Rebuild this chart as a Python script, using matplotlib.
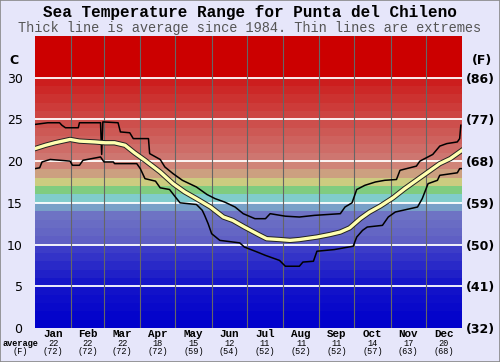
import numpy as np
import matplotlib
matplotlib.use('Agg')
import matplotlib.pyplot as plt
import matplotlib.patheffects as pe
from matplotlib.patches import Rectangle

# chart text
title = 'Sea Temperature Range for Punta del Chileno'
subtitle = 'Thick line is average since 1984. Thin lines are extremes'
months = ['Jan', 'Feb', 'Mar', 'Apr', 'May', 'Jun', 'Jul', 'Aug', 'Sep', 'Oct', 'Nov', 'Dec']
avgC = [22, 22, 22, 18, 15, 12, 11, 11, 11, 14, 17, 20]
avgF = [72, 72, 72, 72, 59, 54, 52, 52, 52, 57, 63, 68]
monthDays = [31, 28, 31, 30, 31, 30, 31, 31, 30, 31, 30, 31]
yTicksC = [0, 5, 10, 15, 20, 25, 30]
yTicksF = [32, 41, 50, 59, 68, 77, 86]

# average temperature (day of year, degC)
avgDay = [0, 9, 17, 30, 38, 51, 60, 68, 77, 85, 94, 107, 118, 128, 138, 150, 161, 169,
          179, 191, 198, 209, 218, 226, 241, 252, 261, 269, 278, 286, 295, 306, 316, 326,
          338, 346, 355, 365]
avgTemp = [21.5, 21.9, 22.2, 22.6, 22.4, 22.3, 22.2, 22.2, 21.9, 21.0, 20.1, 18.7, 17.3, 16.3,
           15.5, 14.5, 13.3, 12.9, 12.1, 11.2, 10.7, 10.6, 10.5, 10.6, 10.9, 11.2, 11.5, 12.0,
           13.1, 13.9, 14.6, 15.6, 16.7, 17.7, 18.9, 19.7, 20.3, 21.3]

# warmest on record
maxDay = [0, 11, 21, 23, 26, 37, 38, 56, 57, 58, 71, 73, 81, 84, 97, 98, 107, 111, 118, 126,
          138, 147, 154, 162, 171, 178, 188, 197, 201, 214, 226, 239, 261, 265, 271, 275, 282,
          291, 299, 309, 312, 326, 329, 340, 346, 352, 361, 363, 364]
maxTemp = [24.4, 24.6, 24.6, 24.3, 24.0, 24.0, 24.6, 24.6, 20.8, 24.7, 24.6, 23.5, 23.4, 22.7,
           22.7, 20.9, 20.2, 19.3, 18.5, 17.7, 16.9, 16.0, 15.5, 15.1, 14.5, 13.7, 13.1, 13.1,
           13.7, 13.4, 13.3, 13.5, 13.7, 14.5, 15.0, 16.6, 17.1, 17.5, 17.7, 17.8, 18.9, 19.4,
           20.0, 20.8, 21.8, 22.1, 22.3, 22.7, 24.3]

# coldest on record
minDay = [0, 4, 6, 13, 30, 32, 38, 41, 56, 59, 67, 68, 87, 90, 94, 103, 107, 115, 120, 124,
          138, 143, 145, 148, 151, 158, 175, 179, 190, 197, 209, 214, 226, 229, 238, 241, 256,
          272, 275, 280, 284, 297, 302, 308, 327, 331, 336, 344, 346, 361, 363, 365]
minTemp = [19.1, 19.2, 19.9, 20.2, 20.0, 19.5, 19.5, 20.1, 20.5, 19.9, 19.9, 19.7, 19.7, 19.1,
           17.9, 17.6, 16.8, 16.6, 15.7, 15.0, 14.8, 14.1, 13.5, 12.5, 11.3, 10.5, 10.2, 9.7,
           9.1, 8.7, 8.1, 7.4, 7.4, 7.9, 8.0, 9.2, 9.4, 9.8, 10.9, 11.7, 12.1, 12.3, 13.3, 13.9,
           14.5, 15.5, 17.3, 17.7, 18.3, 18.6, 19.1, 19.1]

bg = '#e6e6fa'


def bandColour(t):
    # 1 degree colour bands, blue -> cyan/green/yellow -> red
    anchors = [(0, (0, 0, 204)), (5, (22, 22, 200)), (9, (60, 60, 200)), (10, (95, 95, 196)),
               (13, (110, 115, 196)), (14, (120, 160, 200))]
    fixed = {15: (128, 204, 204), 16: (128, 204, 128), 17: (204, 204, 128), 18: (204, 160, 128),
             19: (208, 132, 120)}
    if t in fixed:
        c = fixed[t]
    elif t < 15:
        xs = [a[0] for a in anchors]
        c = tuple(np.interp(t, xs, [a[1][i] for a in anchors]) for i in range(3))
    elif t < 30:
        f = (t - 20) / 9.0
        c = (206 - 2 * f, 118 - 88 * f, 112 - 82 * f)
    else:
        c = (204, 0, 0)
    return tuple(v / 255 for v in c)


fig = plt.figure(figsize=(5, 3.62), dpi=100, facecolor=bg)
ax = fig.add_axes([0.07, 0.094, 0.854, 0.8066])
ax.set_xlim(0, 365)
ax.set_ylim(0, 35)

for t in range(35):
    ax.axhspan(t, t + 1, color=bandColour(t), lw=0, zorder=0)

for y in yTicksC[1:]:
    ax.axhline(y, color='white', lw=1.3, zorder=1)

edges = np.cumsum(monthDays)[:-1]
for e in edges:
    ax.axvline(e, color='#666666', lw=0.8, zorder=1)

ax.plot(maxDay, maxTemp, color='black', lw=1.1, zorder=3)
ax.plot(minDay, minTemp, color='black', lw=1.1, zorder=3)
ax.plot(avgDay, avgTemp, color='#ffffb0', lw=2.4, zorder=4,
        path_effects=[pe.Stroke(linewidth=3.8, foreground='#222222'), pe.Normal()])

for s in ax.spines.values():
    s.set_visible(False)

ax.set_yticks(yTicksC)
ax.set_yticklabels([str(v) for v in yTicksC], fontsize=9, family='DejaVu Sans')
ax.tick_params(axis='y', length=0, pad=9)
ax.set_xticks([])

ax2 = ax.twinx()
ax2.set_ylim(0, 35)
ax2.set_yticks(yTicksC)
ax2.set_yticklabels(['(%d)' % f for f in yTicksF], fontsize=9, fontweight='bold', family='DejaVu Sans')
ax2.tick_params(axis='y', length=0, pad=3)
for s in ax2.spines.values():
    s.set_visible(False)

ax.text(-0.05, 0.915, 'C', transform=ax.transAxes, ha='center', va='center', fontsize=9, fontweight='bold')
ax.text(1.047, 0.915, '(F)', transform=ax.transAxes, ha='center', va='center', fontsize=9, fontweight='bold')

mono = 'Liberation Mono'
starts = np.concatenate([[0], np.cumsum(monthDays)[:-1]])
tr = ax.get_xaxis_transform()
for i, m in enumerate(months):
    xc = starts[i] + monthDays[i] / 2
    ax.text(xc, -0.02, m, transform=tr, ha='center', va='center', fontsize=7.8, fontweight='bold', family=mono)
    ax.text(xc, -0.052, str(avgC[i]), transform=tr, ha='center', va='center', fontsize=6.2, family=mono)
    ax.text(xc, -0.082, '(%d)' % avgF[i], transform=tr, ha='center', va='center', fontsize=6.2, family=mono)
ax.text(-0.035, -0.052, 'average', transform=ax.transAxes, ha='center', va='center', fontsize=6.2,
        fontweight='bold', family=mono)
ax.text(-0.035, -0.082, '(F)', transform=ax.transAxes, ha='center', va='center', fontsize=6.2, family=mono)

fig.text(0.5, 1 - 12 / 362, title, ha='center', va='center', fontsize=11.5, fontweight='bold', family=mono)
fig.text(0.5, 1 - 28 / 362, subtitle, ha='center', va='center', fontsize=9.8, color='#555555', family=mono)

fig.patches.append(Rectangle((0, 0), 1, 1, transform=fig.transFigure, fill=False,
                             edgecolor='#888888', lw=1.2))

fig.savefig('out.png', dpi=100, facecolor=bg)
